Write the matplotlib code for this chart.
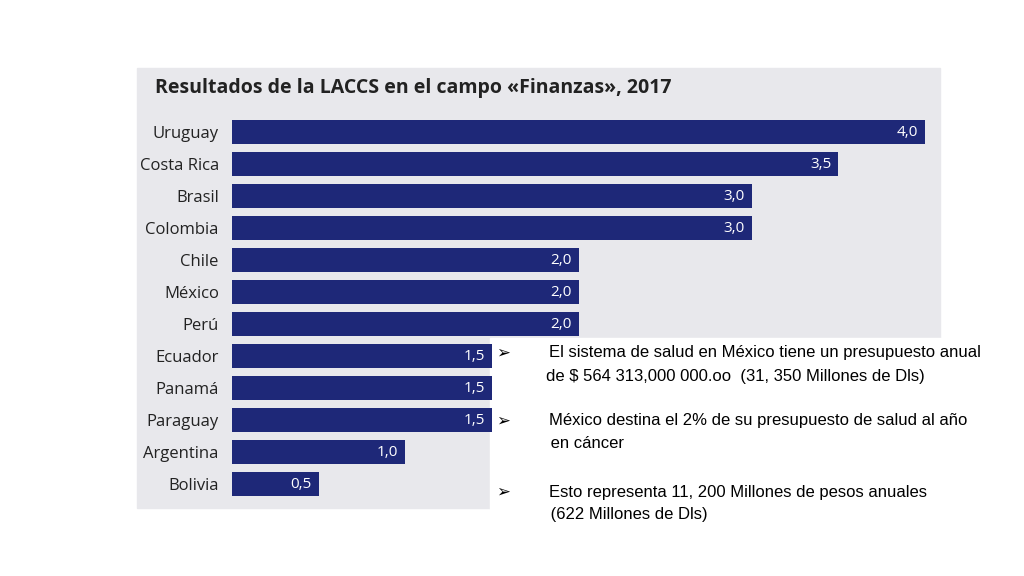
import matplotlib
matplotlib.use("Agg")
import matplotlib.pyplot as plt
from matplotlib.patches import Rectangle

countries = ["Uruguay","Costa Rica","Brasil","Colombia","Chile","México","Perú",
             "Ecuador","Panamá","Paraguay","Argentina","Bolivia"]
values = [4.0,3.5,3.0,3.0,2.0,2.0,2.0,1.5,1.5,1.5,1.0,0.5]
title = "Resultados de la LACCS en el campo «Finanzas», 2017"

W, H = 1024, 576
fig = plt.figure(figsize=(10.24, 5.76), dpi=100)
fig.patches.append(Rectangle((137/W, 1-508/H), (940-137)/W, (508-68)/H,
                             transform=fig.transFigure, color="#e8e8ec", zorder=-2))
fig.patches.append(Rectangle((490/W, 1-532/H), 510/W, (532-338)/H,
                             transform=fig.transFigure, color="white", zorder=-1))
ax = fig.add_axes([232/W, 1-500/H, 693/W, 384/H])
ax.set_zorder(2)
ax.set_facecolor("none")
ax.patch.set_alpha(0)
y = list(range(len(countries)))
ax.barh(y, values, height=0.78, color="#1e2878")
for yi, v in zip(y, values):
    ax.text(v - 0.04, yi, f"{v:.1f}".replace(".", ","), color="white",
            ha="right", va="center", fontsize=11, fontfamily="Open Sans")
ax.set_xlim(0, 4)
ax.set_ylim(len(countries)-0.5, -0.5)
ax.set_yticks(y)
ax.set_yticklabels(countries, fontsize=12, fontfamily="Open Sans", color="#222222")
ax.tick_params(left=False, bottom=False, pad=6)
ax.set_xticks([])
for s in ax.spines.values():
    s.set_visible(False)
fig.text(155/W, 1-88/H, title, fontsize=14, fontweight="bold", fontfamily="Open Sans",
         color="#222222", va="center")

notes = [
    (353, "El sistema de salud en México tiene un presupuesto anual", True),
    (376, "de $ 564 313,000 000.oo  (31, 350 Millones de Dls)", False),
    (421, "México destina el 2% de su presupuesto de salud al año", True),
    (444, " en cáncer", False),
    (492, "Esto representa 11, 200 Millones de pesos anuales", True),
    (515, " (622 Millones de Dls)", False),
]
for yy, t, bullet in notes:
    x = 549 if bullet else 546
    fig.text(x/W, 1-yy/H, t, fontsize=12, fontfamily="Liberation Sans", va="center", zorder=3)
    if bullet:
        fig.text(496/W, 1-yy/H, "➢", fontsize=12, fontfamily="DejaVu Sans", va="center", zorder=3)
fig.savefig("out.png", dpi=100)
